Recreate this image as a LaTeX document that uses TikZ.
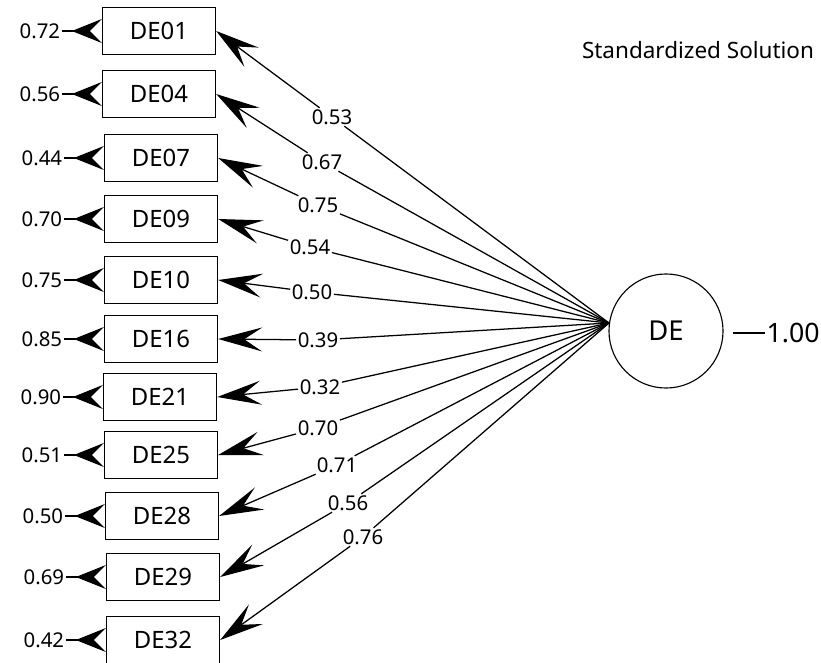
\documentclass[tikz,border=0pt]{standalone}
\usepackage{fontspec}
\setmainfont{Noto Sans}
\usetikzlibrary{arrows.meta,positioning}

\tikzset{
  obsbox/.style={draw, line width=0.8pt, minimum width=2.83cm, minimum height=1.18cm, inner sep=0pt, font=\fontsize{17}{17}\selectfont},
  latent/.style={draw, circle, line width=0.8pt, minimum size=2.85cm, font=\fontsize{19.5}{19.5}\selectfont},
  numlab/.style={inner sep=1pt, font=\fontsize{14.5}{14.5}\selectfont},
  errarrow/.style={line width=0.9pt, -{Stealth[reversed, length=0.75cm, width=0.6cm, inset=0.3cm]}},
  loadarrow/.style={line width=0.9pt, -{Stealth[length=1.1cm, width=0.6cm, inset=0.45cm]}},
}

\begin{document}
\begin{tikzpicture}[x=0.025cm, y=-0.025cm]
  \useasboundingbox (0,0) rectangle (821,663);

  \node[latent] (DE) at (666,331) {DE};
  \coordinate (hub) at (DE.172);

  % indicators: name / box centre / error / loading / label position
  \foreach \n/\bx/\by/\err/\ld/\lx/\ly in {
      01/159/31/0.72/0.53/332/117,
      04/159/94/0.56/0.67/322/162,
      07/161/158/0.44/0.75/318/205,
      09/161/219/0.70/0.54/310/247,
      10/161/280/0.75/0.50/312/292,
      16/161/339/0.85/0.39/318/340,
      21/160/397/0.90/0.32/320/387,
      25/161/455/0.51/0.70/318/428,
      28/162/516/0.50/0.71/337/465,
      29/163/577/0.69/0.56/348/503,
      32/163/640/0.42/0.76/363/537}
  {
    \node[obsbox] (b\n) at (\bx,\by) {DE\n};
    \node[numlab, left=1cm of b\n] (e\n) {\err};
    \node[numlab] (l\n) at (\lx,\ly) {\ld};
    \draw[errarrow] (e\n) -- (b\n);
    \draw[line width=0.9pt] (hub) -- (l\n);
    \draw[loadarrow] (l\n) -- (b\n.east);
  }

  \coordinate (vstart) at (733,333);
  \node[numlab, anchor=west, font=\fontsize{19}{19}\selectfont] (var) at (765,333) {1.00};
  \draw[line width=0.9pt] (vstart) -- (var);

  \node[font=\fontsize{16}{16}\selectfont] (title) at (698,50) {Standardized Solution};
\end{tikzpicture}
\end{document}
